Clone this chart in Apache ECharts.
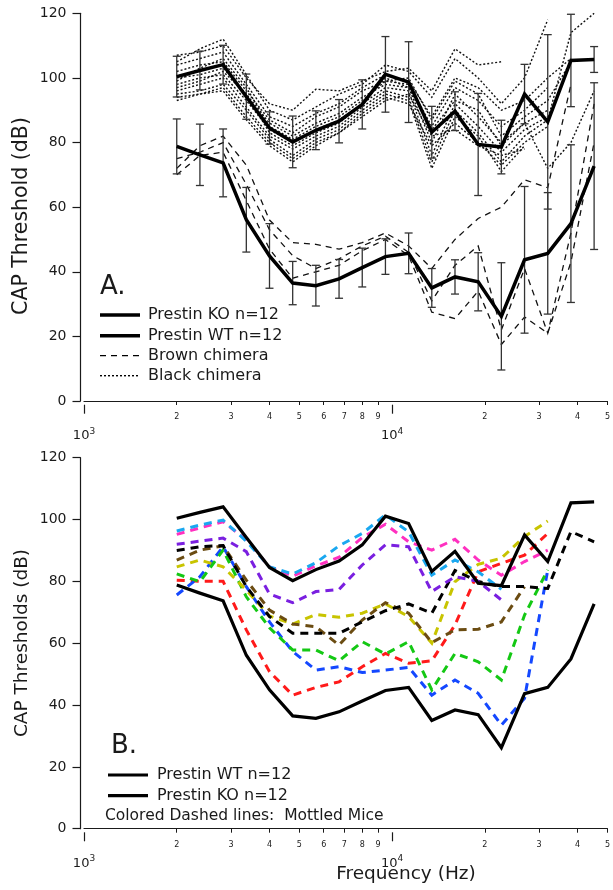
<!DOCTYPE html>
<html><head><meta charset="utf-8">
<script src="https://cdn.jsdelivr.net/npm/echarts@6/dist/echarts.min.js"></script>
<style>html,body{margin:0;padding:0;background:#fff}#c{width:613px;height:890px}</style>
</head><body><div id="c"></div>
<script>
// ---------- data ----------
const freqs = [2000, 2378, 2828, 3364, 4000, 4757, 5657, 6727, 8000, 9514, 11314, 13454, 16000, 19027, 22627, 26909, 32000, 38055, 45255];

const wt    = [100.4, 102.3, 104.1, 94.2, 84.5, 80.2, 83.8, 86.6, 91.8, 101.1, 98.7, 83.2, 89.7, 79.4, 78.6, 95.0, 86.4, 105.4, 105.7];
const wtErr = [6.3, 6.0, 6.0, 7.0, 5.0, 8.0, 6.0, 6.7, 7.6, 11.7, 12.5, 8.0, 6.0, 15.8, 8.3, 9.2, 27.0, 14.3, 4.0];
const ko    = [78.8, 76.2, 73.7, 56.1, 44.9, 36.5, 35.7, 37.8, 41.3, 44.7, 45.7, 35.0, 38.4, 36.9, 26.2, 43.7, 45.7, 54.9, 72.7];
const koErr = [8.5, 9.5, 10.5, 10.0, 10.0, 6.7, 6.3, 6.0, 6.0, 5.5, 6.3, 6.0, 5.3, 9.0, 16.6, 22.7, 18.8, 24.4, 25.8];

// Panel A: brown chimera (dashed)
const brownChimera1 = [72, 79, 82, 73, 56, 49, 48.5, 47, 49, 52, 48, 41, 50, 56.5, 60, 68.5, 66, 98, null];
const brownChimera2 = [75, 77, 80, 67, 53, 45, 41, 44, 48, 51, 46, 31, 42, 48, 22, 41, 21, 52, 92];
const brownChimera3 = [70, 76, 77, 62, 47, 38, 40, 42, 46.5, 50, 45, 27.5, 25.5, 34, 17.5, 26, 21, 43, 80];

// Panel A: black chimera (dotted)
const blackChimera1  = [107, 108, 110, 100, 92, 90, 96.5, 96, 99, 102, 103, 96, 109, 104, 105, null, null, null, null];
const blackChimera2  = [105, 109, 112, 101, 90, 87, 91, 95, 98, 104, 102, 94, 106, 100, 92, 100, 118, null, null];
const blackChimera3  = [104, 106, 108, 98, 88, 85, 89, 92, 97, 101, 99, 88, 100, 97, 90, 93, 100, 106, null];
const blackChimera4  = [102, 104, 105, 96, 87, 83, 88, 91, 96, 99, 98, 85, 97, 93, 85, 90, 97, null, null];
const blackChimera5  = [100, 101, 103, 95, 86, 82, 86, 89, 94, 98, 97, 80, 95, 88, 80, 86, 72, 80, 96];
const blackChimera6  = [98, 100, 101, 93, 84, 80, 84, 87, 92, 97, 96, 76, 92, 85, 77, 84, 88, null, null];
const blackChimera7  = [96, 98, 100, 91, 82, 78, 82, 85, 91, 96, 94, 74, 90, 83, 74, 82, 87, 114, 120];
const blackChimera8  = [95, 96, 98, 90, 81, 76, 81, 84, 90, 95, 93, 72, 88, 82, 71, 79, null, null, null];
const blackChimera9  = [94, 95, 97, 88, 80, 75, 80, 83, 89, 94, 92, 79, 86, 80, 73, 80, 85, null, null];
const blackChimera10 = [93, 95, 96, 87, 79, 74, 79, 83, 88, 93, 95, 82, 84, 79, 76, 78, null, null, null];
const blackChimera11 = [99, 103, 106, 97, 85, 81, 85, 88, 93, 99, 100, 87, 99, 95, 82, 88, 93, 105, null];
const blackChimera12 = [97, 99, 102, 95, 83, 79, 83, 86, 92, 100, 97, 84, 93, 90, 79, 86, 90, null, null];

// Panel B: mottled mice (colored dashed)
const mottledCyan    = [96.3, 98.2, 99.8, 93, 84.7, 82.4, 86, 91.5, 95.5, 101.5, 96, 82, 86.9, 83.1, 77.4, null, null, null, null];
const mottledMagenta = [95.2, 97.3, 99.3, 93.4, 84.7, 81.7, 85, 87.8, 94.2, 98.5, 92.8, 90.1, 93.6, 86.9, 82.0, 86.4, 90.1, null, null];
const mottledPurple  = [92, 93, 94, 89.6, 75.9, 73.1, 76.7, 77.4, 85.3, 91.8, 91.2, 76.7, 81.5, 80, 74, null, null, null, null];
const mottledBlack   = [90, 91.2, 91.6, 78.3, 68.6, 63.2, 63.2, 63.2, 66.9, 70.5, 72.7, 69.7, 83.5, 80, 78.3, 78.3, 77.7, 96.1, 92.8];
const mottledBrown   = [86.9, 90.1, 91.5, 80.4, 70.7, 66.2, 65.3, 59.4, 67.5, 73.1, 69.7, 60.2, 64.3, 64.5, 66.9, 78.3, null, null, null];
const mottledYellow  = [84.7, 86.9, 84.7, 77.2, 68.8, 66.2, 69.3, 68.4, 69.7, 72.7, 68.6, 60, 79.9, 85.5, 87.5, 94.5, 99.5, null, null];
const mottledGreen   = [82.4, 79.9, 90.1, 75, 65, 57.8, 57.8, 54.3, 60.5, 56.5, 60.5, 44.9, 56.7, 54, 48.1, 69.1, 83.7, null, null];
const mottledBlue    = [75.6, 81.5, 91.2, 78.3, 66.9, 57.3, 51.3, 52.4, 50.5, 51.3, 52.2, 43.2, 48.1, 43.8, 33.5, 42.2, 83.7, null, null];
const mottledRed     = [80.4, 80, 80, 64.3, 50.8, 43.2, 45.7, 47.5, 52.4, 56.7, 53.5, 54.3, 65.9, 83.1, 85.8, 88.5, 95.5, null, null];

// ticks
const minorTicks  = [2000, 3000, 4000, 5000, 6000, 7000, 8000, 9000, 20000, 30000, 40000, 50000];
const minorLabels = ['2', '3', '4', '5', '6', '7', '8', '9', '2', '3', '4', '5'];
const majorTicks  = [1000, 10000];
const majorExp    = ['3', '4'];
const yTicksMax = 120, yInterval = 20;

// ---------- chart ----------
const FONT = 'DejaVu Sans';
const INK = '#1a1a1a';
const chart = echarts.init(document.getElementById('c'), null, {renderer: 'canvas'});

function findIdx(arr, v) {
  for (let i = 0; i < arr.length; i++) if (Math.abs(arr[i] - v) / arr[i] < 1e-6) return i;
  return -1;
}
function xAxesFor(gi, offset, minorMargin, majorMargin) {
  const base = {type: 'log', logBase: 10, gridIndex: gi, min: 1000, max: 50000, position: 'bottom', offset: offset, splitLine: {show: false}, minorTick: {show: false}};
  return [
    Object.assign({}, base, {
      axisLine: {show: true, lineStyle: {color: INK, width: 1.2}},
      axisTick: {show: true, customValues: minorTicks, length: 4, lineStyle: {color: INK, width: 1}},
      axisLabel: {show: true, customValues: minorTicks, margin: minorMargin, fontSize: 8, color: INK, fontFamily: FONT,
        formatter: v => { const i = findIdx(minorTicks, v); return i >= 0 ? minorLabels[i] : ''; }}
    }),
    Object.assign({}, base, {
      axisLine: {show: false},
      axisTick: {show: true, customValues: majorTicks, length: 9, lineStyle: {color: INK, width: 1.2}},
      axisLabel: {show: true, customValues: majorTicks, margin: majorMargin, color: INK, fontFamily: FONT,
        formatter: v => { const i = findIdx(majorTicks, v); return i >= 0 ? '{a|10}{b|' + majorExp[i] + '}' : ''; },
        rich: {a: {fontSize: 13, fontFamily: FONT, color: INK}, b: {fontSize: 9, fontFamily: FONT, color: INK, padding: [0, 0, 9, 0]}}}
    })
  ];
}
function yAxisFor(gi) {
  return {type: 'value', gridIndex: gi, min: 0, max: yTicksMax, interval: yInterval, offset: 3.5,
    axisLine: {show: true, lineStyle: {color: INK, width: 1.2}},
    axisTick: {show: true, length: 8, lineStyle: {color: INK, width: 1.2}},
    axisLabel: {fontSize: 14, margin: 14, color: INK, fontFamily: FONT},
    splitLine: {show: false}};
}
function pairs(vals) { return freqs.map((f, i) => [f, vals[i]]); }
function lineSeries(xi, yi, vals, color, width, type, z) {
  return {type: 'line', xAxisIndex: xi, yAxisIndex: yi, data: pairs(vals), symbol: 'none', showSymbol: false,
    connectNulls: false, silent: true, z: z || 2, animation: false,
    lineStyle: {color: color, width: width, type: type || 'solid', cap: 'butt', join: 'miter'}};
}
function errSeries(xi, yi, means, errs) {
  return {type: 'custom', xAxisIndex: xi, yAxisIndex: yi, z: 3, silent: true, animation: false,
    data: freqs.map((f, i) => [f, means[i] - errs[i], means[i] + errs[i]]),
    renderItem: function (params, api) {
      const x = api.value(0);
      const lo = api.coord([x, api.value(1)]);
      const hi = api.coord([x, api.value(2)]);
      const w = 4, st = {stroke: '#333', lineWidth: 1.3};
      return {type: 'group', children: [
        {type: 'line', shape: {x1: lo[0], y1: lo[1], x2: hi[0], y2: hi[1]}, style: st},
        {type: 'line', shape: {x1: lo[0] - w, y1: lo[1], x2: lo[0] + w, y2: lo[1]}, style: st},
        {type: 'line', shape: {x1: hi[0] - w, y1: hi[1], x2: hi[0] + w, y2: hi[1]}, style: st}
      ]};
    }};
}

const series = [];
// Panel A
[brownChimera1, brownChimera2, brownChimera3].forEach(v => series.push(lineSeries(0, 0, v, '#111', 1.3, [6, 5], 1)));
[blackChimera1, blackChimera2, blackChimera3, blackChimera4, blackChimera5, blackChimera6, blackChimera7, blackChimera8,
 blackChimera9, blackChimera10, blackChimera11, blackChimera12].forEach(v => series.push(lineSeries(0, 0, v, '#111', 1.4, [2, 2], 1)));
series.push(errSeries(0, 0, wt, wtErr));
series.push(errSeries(0, 0, ko, koErr));
series.push(lineSeries(0, 0, wt, '#000', 3.5, 'solid', 4));
series.push(lineSeries(0, 0, ko, '#000', 3.5, 'solid', 4));
// Panel B
const mottled = [
  [mottledRed, '#ff1a1a'], [mottledBlue, '#1448ff'], [mottledGreen, '#14c814'], [mottledYellow, '#c8c400'],
  [mottledBrown, '#6b4c12'], [mottledBlack, '#000000'], [mottledPurple, '#7a1fe0'], [mottledMagenta, '#ff30c0'], [mottledCyan, '#1aa8f0']
];
mottled.forEach(m => series.push(lineSeries(2, 1, m[0], m[1], 3, [8, 6], 2)));
series.push(lineSeries(2, 1, wt, '#000', 3.2, 'solid', 3));
series.push(lineSeries(2, 1, ko, '#000', 3.2, 'solid', 3));

const txt = (x, y, text, size, extra) => Object.assign({type: 'text', x: x, y: y, silent: true,
  style: Object.assign({text: text, fontSize: size, fontFamily: FONT, fill: INK, textAlign: 'left', textVerticalAlign: 'middle'}, extra || {})});
const seg = (x1, y1, x2, y2, w, dash) => ({type: 'line', silent: true, shape: {x1, y1, x2, y2},
  style: {stroke: '#000', lineWidth: w, lineDash: dash || null}});

const graphics = [
  // axis titles
  txt(22, 216, 'CAP Threshold (dB)', 20.5, {textAlign: 'center'}),
  txt(22, 643, 'CAP Thresholds (dB)', 18.5, {textAlign: 'center'}),
  txt(406, 874, 'Frequency (Hz)', 18.5, {textAlign: 'center'}),
  // Panel A legend
  txt(100, 287, 'A.', 26),
  seg(100, 315, 140, 315, 3.5), txt(148, 315, 'Prestin KO n=12', 16),
  seg(100, 335.7, 140, 335.7, 3.5), txt(148, 335.7, 'Prestin WT n=12', 16),
  seg(100, 355.7, 140, 355.7, 1.3, [6, 5]), txt(148, 355.7, 'Brown chimera', 16),
  seg(100, 375.7, 140, 375.7, 1.4, [2, 2]), txt(148, 375.7, 'Black chimera', 16),
  // Panel B legend
  txt(111, 746, 'B.', 26),
  seg(108, 775, 148, 775, 3.2), txt(157, 775, 'Prestin WT n=12', 16),
  seg(108, 795.7, 148, 795.7, 3.2), txt(157, 795.7, 'Prestin KO n=12', 16),
  txt(105, 815.7, 'Colored Dashed lines:  Mottled Mice', 15.5)
];
graphics[0].rotation = Math.PI / 2;
graphics[1].rotation = Math.PI / 2;

const xa0 = xAxesFor(0, 3.7, 8, 22);
const xa1 = xAxesFor(1, 3.6, 9, 22);

chart.setOption({
  animation: false,
  backgroundColor: '#fff',
  grid: [
    {left: 84, right: 0, top: 13.3, height: 387.7},
    {left: 84, right: 0, top: 457.7, height: 371}
  ],
  xAxis: [xa0[0], xa0[1], xa1[0], xa1[1]],
  yAxis: [yAxisFor(0), yAxisFor(1)],
  series: series,
  graphic: graphics
});
</script>
</body></html>
